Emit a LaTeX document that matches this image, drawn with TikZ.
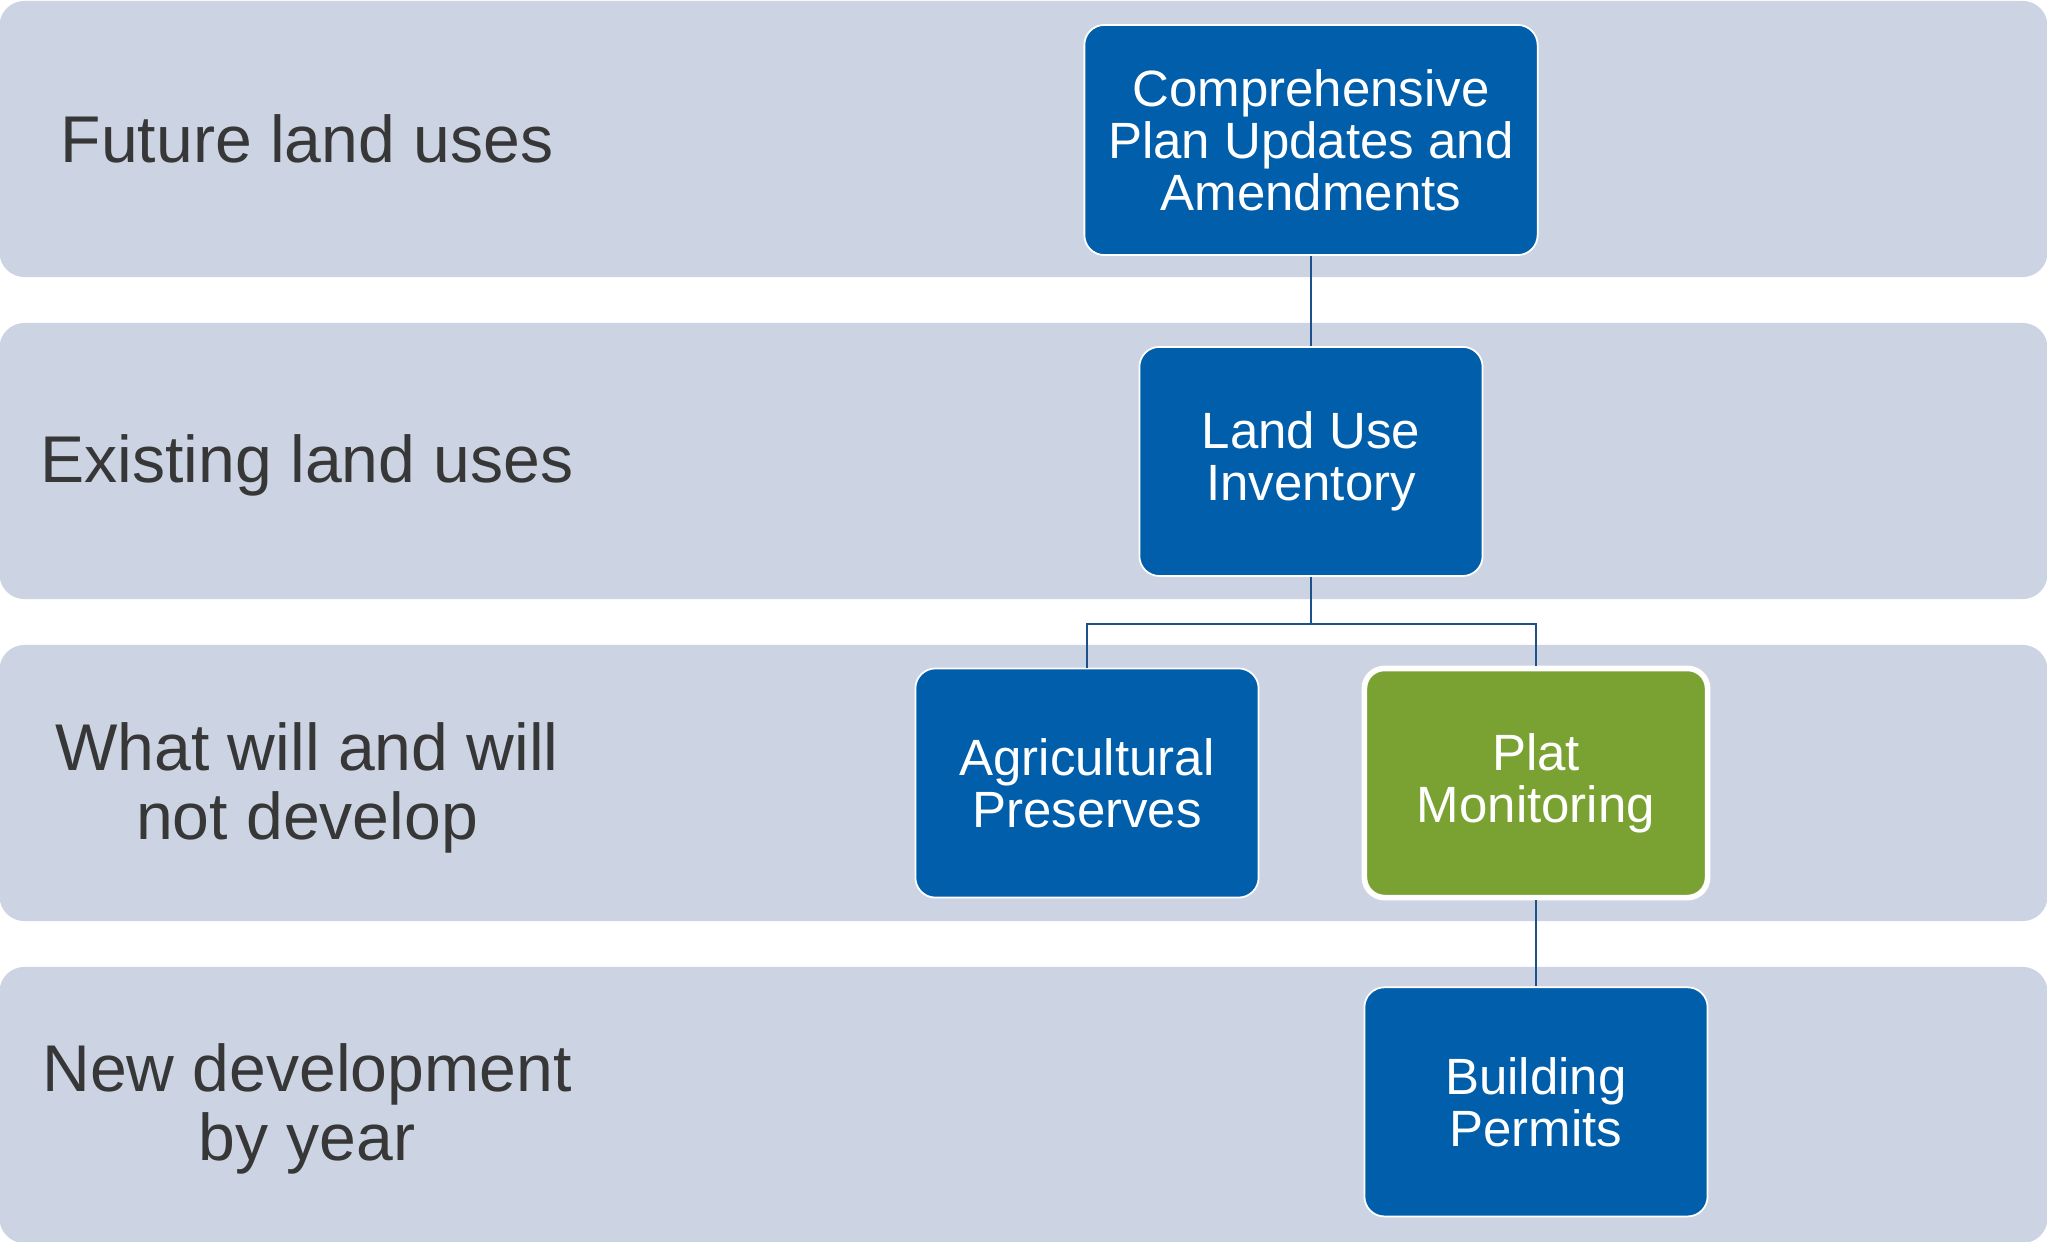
\documentclass[tikz,border=0pt]{standalone}
\usepackage{fontspec}
\setmainfont{Liberation Sans}
\usepackage{xcolor}
\usepackage{tikz}
\usetikzlibrary{calc}
\usetikzlibrary{positioning}

\definecolor{bandgray}{RGB}{204,211,227}
\definecolor{boxblue}{RGB}{0,94,170}
\definecolor{boxgreen}{RGB}{122,162,50}
\definecolor{linkblue}{RGB}{30,80,140}
\definecolor{labelgray}{RGB}{55,55,55}

\begin{document}
\begin{tikzpicture}[x=0.01cm, y=-0.01cm]

        \def\d{.9cm}

        % Styles for the rows and the boxes
        \tikzset{
            band/.style={rectangle, rounded corners=0.25cm, fill=bandgray,
                minimum width=20.47cm, minimum height=2.76cm, inner sep=0pt},
            rowlabel/.style={align=center, text=labelgray,
                font=\fontsize{18.8pt}{19.6pt}\selectfont},
            stage/.style={rectangle, rounded corners=0.2cm, fill=boxblue,
                draw=white, line width=0.5pt, text=white, align=center,
                minimum width=3.43cm, minimum height=2.29cm, inner sep=0pt,
                font=\fontsize{14.5pt}{14.8pt}\selectfont},
            current/.style={stage, fill=boxgreen, line width=1.6pt},
            link/.style={draw=linkblue, line width=0.65pt}
        }

        \useasboundingbox (0,0) rectangle (2047,1242);

        % Rows in the background
        \foreach \i in {1,...,4}
            \node[band] (band\i) at (1023.5, {139+(\i-1)*322}) {};

        \node[rowlabel] (lbl1) at (307, 139) {Future land uses};
        \node[rowlabel] (lbl2) at (307, 465) {Existing land uses};
        \node[rowlabel] (lbl3) at (307, 788) {What will and will\\not develop};
        \node[rowlabel] (lbl4) at (307, 1109) {New development\\by year};

        % Scope for the boxes of the chart
        \begin{scope}
            \node[stage, minimum width=4.53cm, minimum height=2.3cm] (comp)
                at (1311, 140)
                {Comprehensive\\Plan Updates and\\Amendments};
            \node[stage] (inv) [below=\d of comp] {Land Use\\Inventory};
            \node[stage] (agri) at (1087, 783) {Agricultural\\Preserves};
            \node[current] (plat) at (1536, 783) {Plat\\Monitoring};
            \node[stage] (perm) [below=.86cm of plat] {Building\\Permits};
        \end{scope}

        \begin{scope}[link]
            \draw (comp) -- (inv);
            \draw (inv.south) -- ++(0, 47) -| (agri.north);
            \draw (inv.south) -- ++(0, 47) -| (plat.north);
            \draw (plat) -- (perm);
        \end{scope}

\end{tikzpicture}
\end{document}
